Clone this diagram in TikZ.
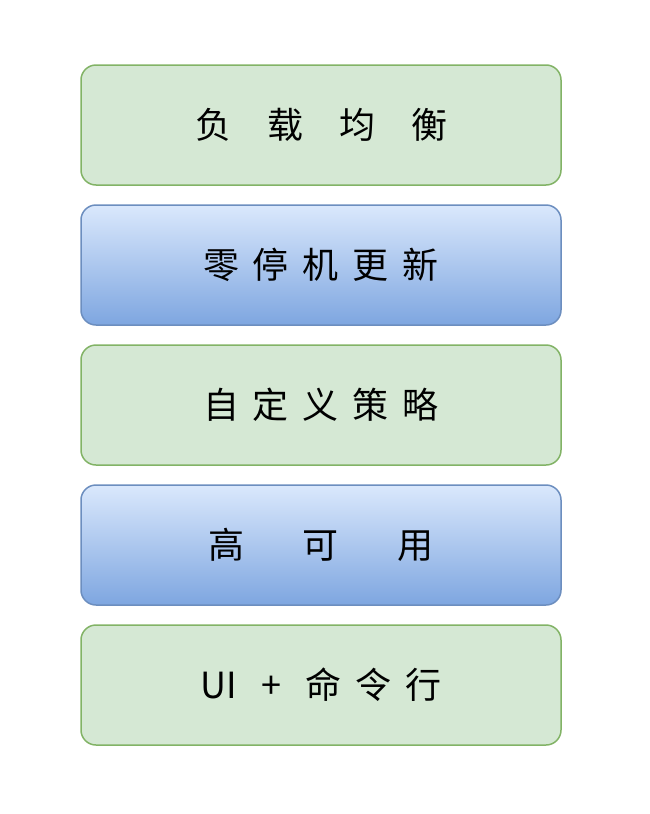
\documentclass[tikz,border=0pt]{standalone}
\usepackage{fontspec}
\newfontfamily\cjk{Noto Sans CJK SC}
\usetikzlibrary{positioning}
\definecolor{greenfill}{HTML}{D5E8D4}
\definecolor{greenline}{HTML}{82B366}
\definecolor{bluetop}{HTML}{DAE8FC}
\definecolor{bluebottom}{HTML}{7EA6E0}
\definecolor{blueline}{HTML}{6C8EBF}
\newcommand{\gp}[1]{\hspace{#1pt}}
\tikzset{layer/.style={rectangle, rounded corners=15pt, line width=1.5pt,
minimum width=480pt, minimum height=120pt, inner sep=0pt,
font=\cjk\fontsize{36}{40}\selectfont},
greenlayer/.style={layer, draw=greenline, fill=greenfill},
bluelayer/.style={layer, draw=blueline, top color=bluetop, bottom color=bluebottom}}

\begin{document}
\begin{tikzpicture}[x=1pt,y=1pt]
  \useasboundingbox (0,0) rectangle (650,-814);
  \node(lb) [greenlayer] at (321,-125) {负\gp{36}载\gp{36}均\gp{36}衡};
  \node(zd) [bluelayer, below=18.5pt of lb] {零\gp{14}停\gp{14}机\gp{14}更\gp{14}新};
  \node(zdy) [greenlayer, below=18.5pt of zd] {自\gp{14}定\gp{14}义\gp{14}策\gp{14}略};
  \node(gky) [bluelayer, below=18.5pt of zdy] {高\gp{59}可\gp{59}用};
  \node(ui) [greenlayer, below=18.5pt of gky] {UI\gp{24}+\gp{24}命\gp{14}令\gp{14}行};
\end{tikzpicture}
\end{document}
